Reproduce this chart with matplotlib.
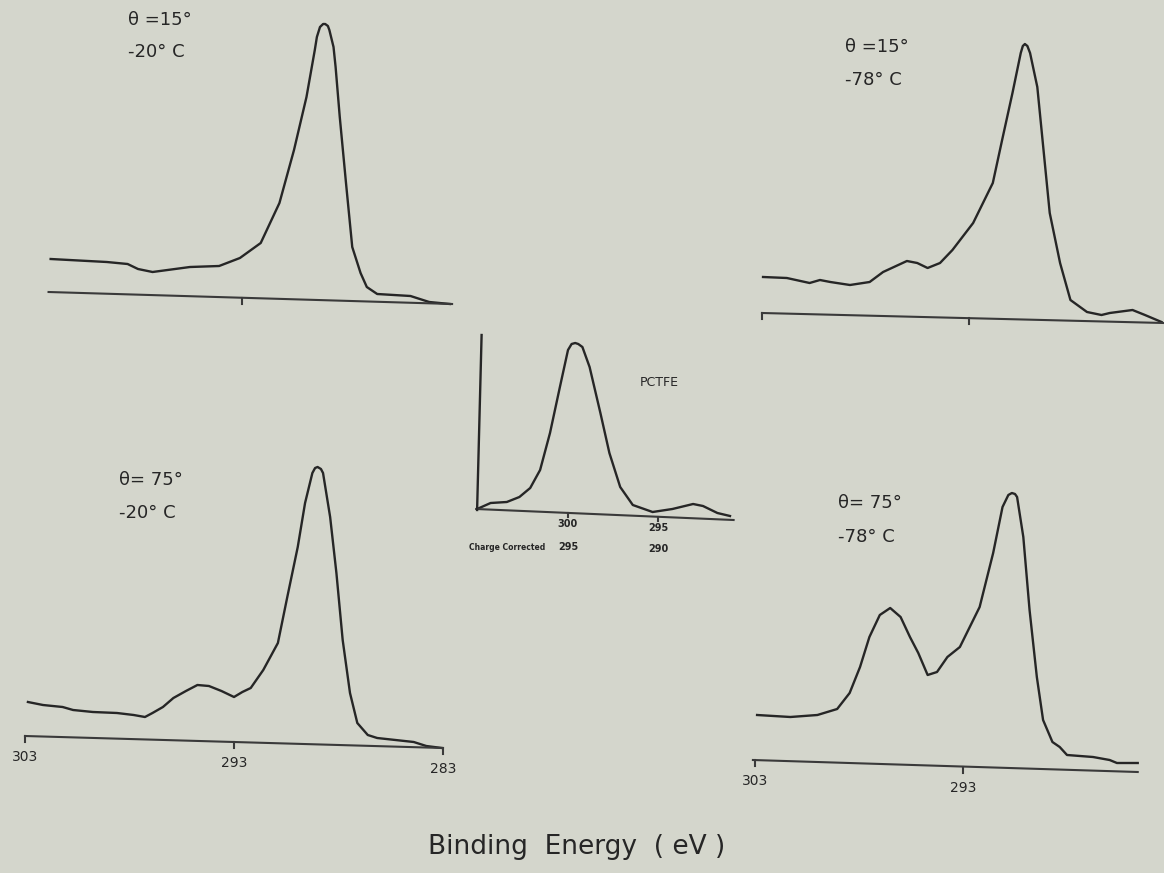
import numpy as np
import matplotlib.pyplot as plt

# ---------------------------
# Data (binding energy in eV, intensity in arbitrary units)
# ---------------------------

# theta = 15 deg, -20 C
be_15_20 = [302.2, 299.5, 298.5, 298.0, 297.3, 295.5, 294.1, 293.1, 292.1, 291.2,
            290.5, 289.9, 289.5, 289.4, 289.25, 289.1, 289.0, 288.87, 288.8, 288.6,
            288.5, 288.3, 288.0, 287.7, 287.3, 287.0, 286.5, 284.9, 284.0, 283.0]
int_15_20 = [51, 48, 46, 41, 38, 43, 44, 52, 67, 107,
             160, 213, 260, 273, 283, 286, 286, 284, 280, 263,
             243, 193, 127, 63, 37, 23, 16, 14, 8, 6]
base_15_20 = ([302.3, 282.9], [18, 6])

# theta = 15 deg, -78 C
be_15_78 = [302.95, 301.8, 300.7, 300.2, 299.7, 298.75, 297.8, 297.15, 296.0, 295.5,
            295.0, 294.4, 293.8, 292.8, 291.85, 291.4, 290.9, 290.5, 290.4, 290.3,
            290.18, 290.05, 289.7, 289.4, 289.1, 288.6, 288.1, 287.3, 286.6, 286.2,
            285.1, 284.5, 283.7]
int_15_78 = [53, 52, 47, 50, 48, 45, 48, 58, 69, 67,
             62, 67, 80, 107, 147, 190, 237, 277, 284, 286,
             284, 277, 243, 180, 117, 67, 30, 18, 15, 17,
             20, 15, 8]
base_15_78 = ([303.0, 283.6], [17, 7])

# PCTFE reference
be_pctfe = [305.05, 304.3, 303.4, 302.7, 302.1, 301.55, 301.0, 300.45, 300.0, 299.8,
            299.6, 299.43, 299.2, 298.8, 298.2, 297.7, 297.1, 296.4, 295.3, 294.2,
            293.05, 292.5, 291.7, 291.0]
int_pctfe = [11, 17, 18, 23, 32, 50, 87, 133, 170, 176,
             177, 176, 173, 153, 107, 67, 33, 15, 8, 11,
             16, 14, 7, 4]
base_pctfe = ([305.1, 290.8], [11, 0])
yaxis_pctfe = ([305.05, 304.8], [10, 185])

# theta = 75 deg, -20 C
be_75_20 = [302.86, 302.14, 301.2, 300.7, 299.75, 298.6, 297.8, 297.26, 296.9, 296.4,
            295.9, 295.3, 294.75, 294.2, 293.6, 293.0, 292.6, 292.2, 291.6, 290.9,
            290.45, 289.95, 289.6, 289.25, 289.12, 289.0, 288.84, 288.74, 288.4, 288.1,
            287.8, 287.45, 287.1, 286.6, 286.15, 284.4, 283.8, 283.05]
int_75_20 = [58, 55, 53, 50, 48, 47, 45, 43, 47, 53,
             62, 69, 75, 74, 69, 63, 68, 72, 90, 117,
             163, 213, 257, 287, 292, 293, 291, 287, 243, 187,
             120, 67, 37, 25, 22, 18, 14, 12]
base_75_20 = ([303.0, 283.0], [24, 12])

# theta = 75 deg, -78 C
be_75_78 = [302.9, 301.3, 300.0, 299.05, 298.45, 297.95, 297.5, 297.0, 296.5, 296.0,
            295.55, 295.15, 294.7, 294.25, 293.75, 293.15, 292.2, 291.55, 291.1, 290.82,
            290.65, 290.5, 290.4, 290.1, 289.8, 289.45, 289.15, 288.7, 288.35, 288.0,
            286.75, 285.95, 285.6, 284.6]
int_75_78 = [65, 63, 65, 71, 87, 113, 143, 165, 172, 163,
             143, 127, 105, 108, 123, 133, 173, 227, 273, 285,
             287, 286, 283, 243, 170, 103, 60, 38, 33, 25,
             23, 20, 17, 17]
base_75_78 = ([303.1, 284.6], [20, 8])

# ---------------------------
# Figure
# ---------------------------

W, H = 1164, 873
bg = "#d4d6cc"
ink = "#262626"

fig = plt.figure(figsize=(W / 100, H / 100), dpi=100, facecolor=bg)


def panel(px_left, px_top, px_w, px_h, xlim, ylim):
    ax = fig.add_axes([px_left / W, 1 - (px_top + px_h) / H, px_w / W, px_h / H])
    ax.set_xlim(*xlim)
    ax.set_ylim(*ylim)
    ax.axis("off")
    ax.patch.set_alpha(0)
    return ax


def draw(ax, be, inten, base, ticks, labels=None, lab_off=14, tick_len=6, fs=10,
         fw="normal"):
    ax.plot(be, inten, color=ink, lw=1.7, clip_on=False, solid_joinstyle="round")
    ax.plot(base[0], base[1], color="#3a3a3a", lw=1.5, clip_on=False)
    for i, t in enumerate(ticks):
        yb = np.interp(t, base[0][::-1], base[1][::-1])
        ax.plot([t, t], [yb, yb - tick_len], color="#3a3a3a", lw=1.5, clip_on=False)
        if labels:
            ax.text(t, yb - lab_off, labels[i], ha="center", va="top",
                    fontsize=fs, color=ink, fontweight=fw)


def caption(ax, x, y, l1, l2, dy):
    ax.text(x, y, l1, fontsize=13, color=ink, ha="left", va="center")
    ax.text(x, y - dy, l2, fontsize=13, color=ink, ha="left", va="center")


# top-left
ax1 = panel(34, 0, 416, 310, (303, 283), (0, 310))
draw(ax1, be_15_20, int_15_20, base_15_20, [293])
caption(ax1, 298.5, 290, "θ =15°", "-20° C", 32)

# top-right
ax2 = panel(762, 0, 414, 330, (303, 283), (0, 330))
draw(ax2, be_15_78, int_15_78, base_15_78, [303, 293])
caption(ax2, 299.0, 283, "θ =15°", "-78° C", 33)

# center PCTFE
ax3 = panel(460, 320, 288, 200, (306, 290), (0, 200))
draw(ax3, be_pctfe, int_pctfe, base_pctfe, [300, 295], ["300", "295"],
     lab_off=6, tick_len=4, fs=7, fw="bold")
ax3.plot(yaxis_pctfe[0], yaxis_pctfe[1], color=ink, lw=1.7, clip_on=False)
ax3.text(296.0, 138, "PCTFE", fontsize=9, color=ink, ha="left", va="center")
ax3.text(300.0, -27, "295", fontsize=7, color=ink, ha="center", va="center",
         fontweight="bold")
ax3.text(295.0, -29, "290", fontsize=7, color=ink, ha="center", va="center",
         fontweight="bold")
ax3.text(301.25, -27, "Charge Corrected", fontsize=5.5, color=ink, ha="right",
         va="center", fontweight="bold")

# bottom-left
ax4 = panel(25, 440, 418, 320, (303, 283), (0, 320))
draw(ax4, be_75_20, int_75_20, base_75_20, [303, 293, 283], ["303", "293", "283"])
caption(ax4, 298.5, 280, "θ= 75°", "-20° C", 33)

# bottom-right
ax5 = panel(755, 460, 416, 320, (303, 283), (0, 320))
draw(ax5, be_75_78, int_75_78, base_75_78, [303, 293], ["303", "293"])
caption(ax5, 299.0, 277, "θ= 75°", "-78° C", 34)

fig.text(577 / W, 1 - 847 / H, "Binding  Energy  ( eV )", fontsize=19,
         color=ink, ha="center", va="center")

fig.savefig("out.png", dpi=100, facecolor=bg)
